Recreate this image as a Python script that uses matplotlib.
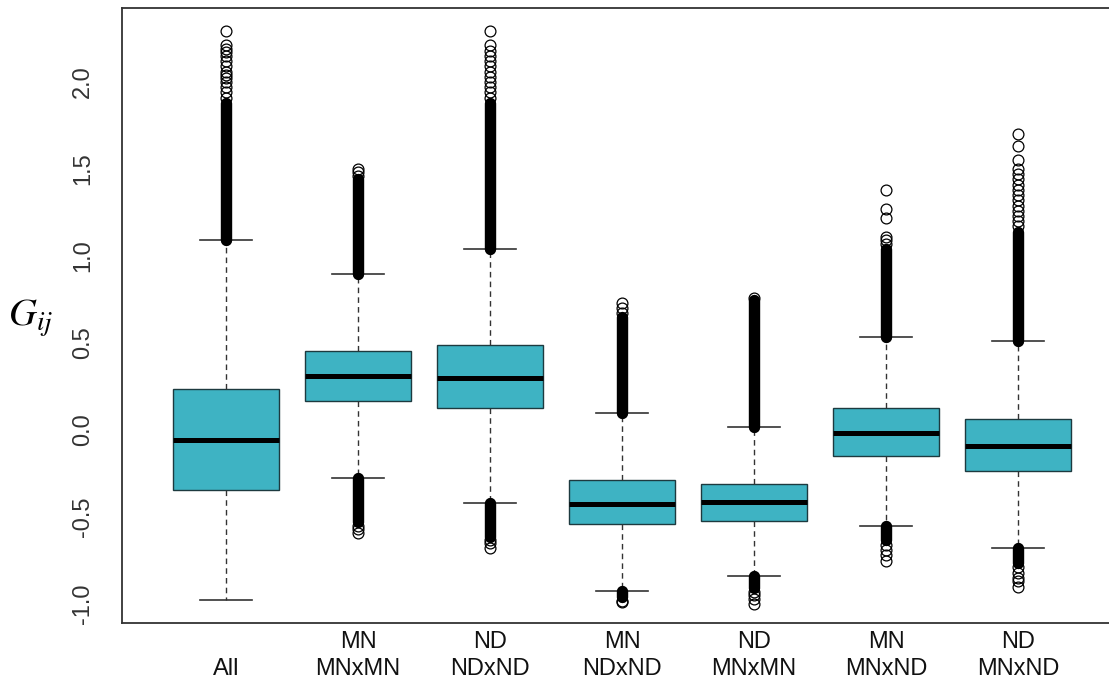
import matplotlib
matplotlib.use("Agg")
import matplotlib.pyplot as plt

plt.rcParams['font.family'] = ['Liberation Sans', 'DejaVu Sans']
plt.rcParams['mathtext.fontset'] = 'stix'

# groups, left to right
labels = ["\nAll", "MN\nMNxMN", "ND\nNDxND", "MN\nNDxND", "ND\nMNxMN", "MN\nMNxND", "ND\nMNxND"]

# box statistics
whislo = [-0.975, -0.276, -0.42, -0.925, -0.84, -0.55, -0.68]
q1 = [-0.342, 0.167, 0.127, -0.54, -0.52, -0.148, -0.235]
med = [-0.056, 0.31, 0.30, -0.425, -0.415, -0.02, -0.092]
q3 = [0.233, 0.454, 0.49, -0.29, -0.31, 0.125, 0.062]
whishi = [1.09, 0.895, 1.04, 0.10, 0.017, 0.535, 0.51]

# outliers: where they pile up into a solid column, keep the column ends
upper_dense_top = [1.88, 1.44, 1.88, 0.65, 0.745, 1.04, 1.14]
lower_dense_bottom = [None, -0.53, -0.615, -0.96, -0.91, -0.63, -0.765]

# sparse outliers that still show as single circles
upper_sparse = [
    [1.91, 1.94, 1.97, 2.00, 2.02, 2.04, 2.06, 2.09, 2.12, 2.15, 2.17, 2.19, 2.21, 2.29],
    [1.46, 1.48, 1.50],
    [1.91, 1.94, 1.97, 2.00, 2.03, 2.06, 2.09, 2.12, 2.15, 2.18, 2.21, 2.29],
    [0.67, 0.70, 0.73],
    [0.76],
    [1.07, 1.09, 1.11, 1.22, 1.27, 1.38],
    [1.17, 1.20, 1.23, 1.26, 1.29, 1.32, 1.35, 1.38, 1.41, 1.44, 1.47, 1.50, 1.55, 1.63, 1.70],
]
lower_sparse = [
    [],
    [-0.55, -0.57, -0.59],
    [-0.63, -0.65, -0.68],
    [-0.98, -0.99],
    [-0.93, -0.95, -0.97, -1.0],
    [-0.66, -0.69, -0.72, -0.75],
    [-0.79, -0.82, -0.85, -0.87, -0.90],
]

box_color = "#3eb3c3"
edge_color = "#1d3a3f"

fig = plt.figure(figsize=(11.09, 6.86), dpi=100)
ax = fig.add_axes([122 / 1109, 1 - 623 / 686, 1 - 122 / 1109, (623 - 8) / 686])

positions = list(range(1, len(labels) + 1))
stats = []
for i in range(len(labels)):
    stats.append(dict(whislo=whislo[i], q1=q1[i], med=med[i], q3=q3[i],
                      whishi=whishi[i], fliers=[]))

ax.bxp(stats, positions=positions, widths=0.8, capwidths=0.4,
       patch_artist=True, showfliers=False,
       boxprops=dict(facecolor=box_color, edgecolor=edge_color, linewidth=1.0),
       whiskerprops=dict(color="#333333", linewidth=1.0, linestyle=(0, (4, 3))),
       capprops=dict(color="#333333", linewidth=1.2),
       medianprops=dict(color="black", linewidth=3.6, solid_capstyle="butt"))

# outliers
for i, x in enumerate(positions):
    ax.plot([x, x], [whishi[i], upper_dense_top[i]], color="black",
            linewidth=8.2, solid_capstyle="round", zorder=3)
    if lower_dense_bottom[i] is not None:
        ax.plot([x, x], [lower_dense_bottom[i], whislo[i]], color="black",
                linewidth=8.2, solid_capstyle="round", zorder=3)
    pts = upper_sparse[i] + lower_sparse[i]
    if pts:
        ax.plot([x] * len(pts), pts, linestyle="none", marker="o",
                markersize=7.8, markerfacecolor="none", markeredgecolor="black",
                markeredgewidth=0.9, zorder=3)

ax.set_xlim(1 + (122 - 226) / 132, 1 + (1109 - 226) / 132)
ax.set_ylim(-1.109, 2.425)

ax.set_xticks(positions)
ax.set_xticklabels(labels, fontsize=17, linespacing=1.25)
ax.set_yticks([-1.0, -0.5, 0.0, 0.5, 1.0, 1.5, 2.0])
ax.set_yticklabels(["-1.0", "-0.5", "0.0", "0.5", "1.0", "1.5", "2.0"],
                   rotation=90, va="center", fontsize=17)
ax.tick_params(axis="x", length=0, pad=6, colors="#111111")
ax.tick_params(axis="y", length=0, pad=20, colors="#333333")

for side in ["top", "left", "bottom"]:
    ax.spines[side].set_color("#333333")
    ax.spines[side].set_linewidth(1.3)
ax.spines["right"].set_visible(False)

fig.text(8 / 1109, 1 - 318 / 686, r"$G_{ij}$", fontsize=28, va="center", ha="left")

fig.savefig("out.png", dpi=100)
